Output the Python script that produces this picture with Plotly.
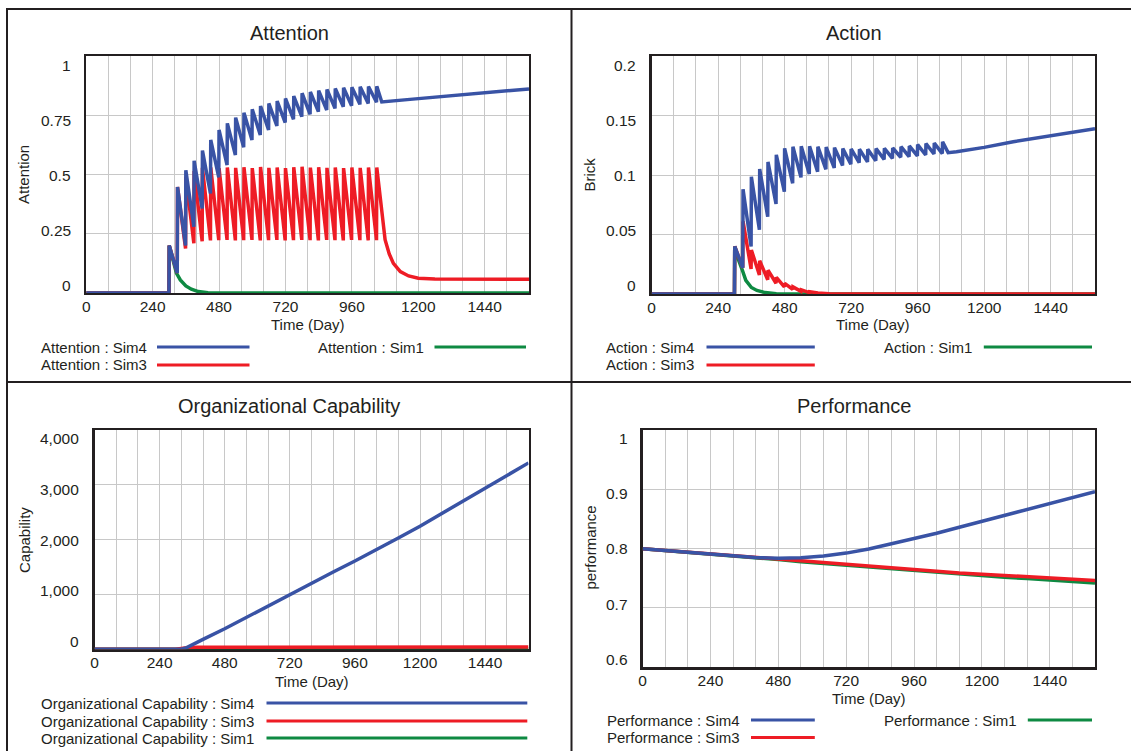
import plotly.graph_objects as go

W, H = 1131, 751

# ---------------- shared axis data ----------------
x_grid_vals = [0, 80, 160, 240, 320, 400, 480, 560, 640, 720, 800, 880, 960, 1040,
               1120, 1200, 1280, 1360, 1440, 1520, 1600]
x_tick_text = ["0", "", "", "240", "", "", "480", "", "", "720", "", "", "960", "",
               "", "1200", "", "", "1440", "", ""]

# pulse (decision) times used by the oscillating runs
pulse_t = [300, 330, 360, 390, 420, 450, 480, 510, 540, 570, 600, 630, 660, 690,
           720, 750, 780, 810, 840, 870, 900, 930, 960, 990, 1020, 1050]

# ---------------- Attention ----------------
att_sim4_peak = [0.200, 0.447, 0.518, 0.558, 0.601, 0.646, 0.688, 0.716, 0.740, 0.761,
                 0.775, 0.789, 0.800, 0.810, 0.821, 0.831, 0.843, 0.848, 0.854, 0.859,
                 0.863, 0.866, 0.868, 0.870, 0.871, 0.872]
att_sim4_trough = [0.0, 0.084, 0.200, 0.280, 0.357, 0.420, 0.488, 0.540, 0.582, 0.615,
                   0.646, 0.667, 0.688, 0.705, 0.719, 0.733, 0.744, 0.754, 0.765, 0.772,
                   0.779, 0.786, 0.790, 0.796, 0.800, 0.805]
att_sim4_tail_t = [1068, 1170, 1280, 1400, 1500, 1600]
att_sim4_tail_v = [0.806, 0.817, 0.828, 0.840, 0.850, 0.861]

att_sim3_peak = [0.200, 0.447, 0.490, 0.515, 0.528, 0.530, 0.527, 0.530, 0.528, 0.531,
                 0.527, 0.532, 0.528, 0.530, 0.527, 0.531, 0.533, 0.529, 0.531, 0.528,
                 0.530, 0.527, 0.530, 0.528, 0.530, 0.530]
att_sim3_trough = [0.0, 0.084, 0.188, 0.210, 0.218, 0.222, 0.223, 0.224, 0.222, 0.223,
                   0.224, 0.222, 0.223, 0.224, 0.222, 0.223, 0.224, 0.223, 0.222, 0.224,
                   0.223, 0.222, 0.224, 0.223, 0.222, 0.223]
att_sim3_tail_t = [1080, 1095, 1110, 1135, 1165, 1200, 1260, 1600]
att_sim3_tail_v = [0.225, 0.165, 0.125, 0.090, 0.072, 0.062, 0.059, 0.058]

att_sim1_t = [0, 299, 300, 326, 340, 360, 380, 405, 440, 480, 1600]
att_sim1_v = [0, 0, 0.200, 0.084, 0.055, 0.030, 0.016, 0.006, 0.001, 0, 0]

# ---------------- Action ----------------
act_sim4_peak = [0.040, 0.088, 0.0986, 0.105, 0.111, 0.117, 0.1224, 0.1238, 0.1241, 0.1241,
                 0.1238, 0.1235, 0.1230, 0.1222, 0.1219, 0.1216, 0.1216, 0.1222, 0.1224,
                 0.1227, 0.1238, 0.1244, 0.1255, 0.1265, 0.1268, 0.1279]
act_sim4_trough = [0.0, 0.022, 0.040, 0.054, 0.065, 0.0756, 0.086, 0.093, 0.098, 0.1008,
                   0.1028, 0.1048, 0.106, 0.108, 0.109, 0.1104, 0.111, 0.112, 0.113, 0.114,
                   0.1149, 0.1154, 0.116, 0.1168, 0.1176, 0.118]
act_sim4_tail_t = [1070, 1100, 1200, 1305, 1430, 1600]
act_sim4_tail_v = [0.1188, 0.1196, 0.1232, 0.1280, 0.1325, 0.1388]

act_sim3_peak = [0.040, 0.061, 0.037, 0.028, 0.020, 0.014, 0.009, 0.006, 0.0035, 0.002]
act_sim3_trough = [0.0, 0.022, 0.021, 0.016, 0.012, 0.009, 0.006, 0.004, 0.0022, 0.0012]
act_sim3_tail_t = [600, 640, 700, 1600]
act_sim3_tail_v = [0.0009, 0.0003, 0.0, 0.0]

act_sim1_t = [0, 299, 300, 313, 326, 340, 360, 380, 410, 450, 500, 1600]
act_sim1_v = [0, 0, 0.040, 0.029, 0.021, 0.0115, 0.0055, 0.003, 0.0012, 0.0003, 0, 0]

# ---------------- Organizational Capability ----------------
cap_t = [0, 320, 340, 360, 400, 480, 560, 640, 720, 800, 880, 960, 1040, 1120, 1200,
         1280, 1360, 1440, 1520, 1600]
cap_sim4 = [0, 0, 30, 75, 180, 375, 585, 795, 1000, 1200, 1410, 1610, 1815, 2030, 2245,
            2475, 2705, 2935, 3165, 3400]
cap_sim3_t = [0, 300, 340, 380, 1600]
cap_sim3 = [0, 0, 30, 38, 40]
cap_sim1_t = [0, 300, 330, 360, 1600]
cap_sim1 = [0, 0, 4, 5, 5]

# ---------------- Performance ----------------
perf_t = [0, 80, 160, 240, 320, 400, 480, 560, 640, 720, 800, 880, 960, 1040, 1120,
          1200, 1280, 1360, 1440, 1520, 1600]
perf_sim4 = [0.800, 0.797, 0.7945, 0.791, 0.788, 0.785, 0.7837, 0.7845, 0.7875, 0.7925,
             0.7995, 0.808, 0.817, 0.826, 0.836, 0.846, 0.856, 0.866, 0.876, 0.886, 0.896]
perf_sim3 = [0.800, 0.797, 0.7945, 0.791, 0.788, 0.785, 0.782, 0.779, 0.776, 0.773,
             0.770, 0.767, 0.7644, 0.762, 0.759, 0.757, 0.7548, 0.7526, 0.7504, 0.7483, 0.7463]
perf_sim1 = [0.800, 0.797, 0.7945, 0.791, 0.788, 0.785, 0.7815, 0.778, 0.775, 0.772,
             0.769, 0.766, 0.763, 0.760, 0.757, 0.7545, 0.752, 0.7495, 0.747, 0.7445, 0.742]

# y tick labels
att_ticks = [0, 0.25, 0.5, 0.75, 1]
att_labels = ["0", "0.25", "0.5", "0.75", "1"]
act_ticks = [0, 0.05, 0.1, 0.15, 0.2]
act_labels = ["0", "0.05", "0.1", "0.15", "0.2"]
cap_ticks = [0, 1000, 2000, 3000, 4000]
cap_labels = ["0", "1,000", "2,000", "3,000", "4,000"]
perf_ticks = [0.6, 0.7, 0.8, 0.9, 1.0]
perf_labels = ["0.6", "0.7", "0.8", "0.9", "1"]

# ---------------- styling ----------------
BLUE = "#3953A5"
RED = "#EE1C25"
GREEN = "#0E8A42"
GRID = "#C8C8C8"
FRAME = "#231F20"
TXT = "#231F20"
FONT = "Liberation Sans, Arial, sans-serif"
LW = 3.5
TICK_SIZE = 15.5


def sawtooth(times, troughs, peaks, tail_t, tail_v):
    xs, ys = [0], [0.0]
    for t, lo, hi in zip(times, troughs, peaks):
        xs += [t - 1, t]
        ys += [lo, hi]
    xs += tail_t
    ys += tail_v
    return xs, ys


def px_x(x):
    return x / W


def px_y(y):
    return 1 - y / H


fig = go.Figure()


def add(xs, ys, color, ax):
    fig.add_trace(go.Scatter(x=xs, y=ys, mode="lines", line=dict(color=color, width=LW),
                             xaxis="x" + ax, yaxis="y" + ax, showlegend=False,
                             hoverinfo="skip"))


# Attention (axes 1)
add(att_sim1_t, att_sim1_v, GREEN, "")
x3, y3 = sawtooth(pulse_t, att_sim3_trough, att_sim3_peak, att_sim3_tail_t, att_sim3_tail_v)
add(x3, y3, RED, "")
x4, y4 = sawtooth(pulse_t, att_sim4_trough, att_sim4_peak, att_sim4_tail_t, att_sim4_tail_v)
add(x4, y4, BLUE, "")

# Action (axes 2)
add(act_sim1_t, act_sim1_v, GREEN, "2")
n3 = len(act_sim3_peak)
x3, y3 = sawtooth(pulse_t[:n3], act_sim3_trough, act_sim3_peak, act_sim3_tail_t, act_sim3_tail_v)
add(x3, y3, RED, "2")
x4, y4 = sawtooth(pulse_t, act_sim4_trough, act_sim4_peak, act_sim4_tail_t, act_sim4_tail_v)
add(x4, y4, BLUE, "2")

# Capability (axes 3)
add(cap_sim1_t, cap_sim1, GREEN, "3")
add(cap_sim3_t, cap_sim3, RED, "3")
add(cap_t, cap_sim4, BLUE, "3")

# Performance (axes 4)
add(perf_t, perf_sim1, GREEN, "4")
add(perf_t, perf_sim3, RED, "4")
add(perf_t, perf_sim4, BLUE, "4")

tickfont = dict(family=FONT, size=TICK_SIZE, color=TXT)


def xcfg(x0, x1, anchor):
    return dict(domain=[px_x(x0), px_x(x1)], anchor=anchor, range=[0, 1600],
                tickmode="array", tickvals=x_grid_vals, ticktext=x_tick_text,
                showgrid=True, gridcolor=GRID, gridwidth=1, zeroline=False,
                showline=True, mirror=True, linecolor=FRAME, linewidth=2.2,
                ticks="", tickfont=tickfont, ticklabelstandoff=-2, layer="below traces",
                fixedrange=True, automargin=False)


def ycfg(y0, y1, anchor, rng, vals):
    # grid lines from the library; labels placed Vensim-style below (annotations)
    return dict(domain=[px_y(y1), px_y(y0)], anchor=anchor, range=rng,
                tickmode="array", tickvals=vals, showticklabels=False,
                showgrid=True, gridcolor=GRID, gridwidth=1, zeroline=False,
                showline=True, mirror=True, linecolor=FRAME, linewidth=2.2,
                ticks="", layer="below traces", fixedrange=True, automargin=False)


layout = dict(
    width=W, height=H, margin=dict(l=0, r=0, t=0, b=0, pad=0), autosize=False,
    paper_bgcolor="white", plot_bgcolor="white", showlegend=False,
    xaxis=xcfg(86.2, 529, "y"),
    yaxis=ycfg(56, 293, "x", [0, 1], att_ticks),
    xaxis2=xcfg(651.6, 1095, "y2"),
    yaxis2=ycfg(56, 294, "x2", [0, 0.2], act_ticks),
    xaxis3=xcfg(94.5, 528.5, "y3"),
    yaxis3=ycfg(430, 649.3, "x3", [0, 4000], cap_ticks),
    xaxis4=xcfg(642.6, 1095, "y4"),
    yaxis4=ycfg(430, 667.3, "x4", [0.6, 1.0], perf_ticks),
)
fig.update_layout(**layout)

annotations = []
shapes = []


def text(x, y, s, size=15, xanchor="center", angle=0):
    annotations.append(dict(x=px_x(x), y=px_y(y), xref="paper", yref="paper", text=s,
                            showarrow=False, xanchor=xanchor, yanchor="middle",
                            textangle=angle, font=dict(family=FONT, size=size, color=TXT)))


def hline(x0, x1, y, color, width=3):
    shapes.append(dict(type="line", xref="paper", yref="paper", x0=px_x(x0), x1=px_x(x1),
                       y0=px_y(y), y1=px_y(y), line=dict(color=color, width=width)))


def vline(x, y0, y1, color, width=2):
    shapes.append(dict(type="line", xref="paper", yref="paper", x0=px_x(x), x1=px_x(x),
                       y0=px_y(y0), y1=px_y(y1), line=dict(color=color, width=width)))


def ylabels(labels, right_x, top_y, bottom_y):
    # Vensim places value labels evenly, slightly inset from the frame edges
    n = len(labels)
    for i, lab in enumerate(labels):
        y = bottom_y + (top_y - bottom_y) * i / (n - 1)
        text(right_x, y, lab, TICK_SIZE, xanchor="right")


# panel frames
hline(6, 1131, 9, FRAME, 2)
hline(6, 1131, 382, FRAME, 2)
vline(7, 8, 751, FRAME, 2)
vline(571.5, 8, 751, FRAME, 2)

# titles
text(289, 33, "Attention", 20)
text(854, 33, "Action", 20)
text(289, 406, "Organizational Capability", 20)
text(854, 406, "Performance", 20)

# y value labels
ylabels(att_labels, 73, 65, 286)
ylabels(act_labels, 638, 65, 286)
ylabels(cap_labels, 81, 438.5, 641.7)
ylabels(perf_labels, 629.5, 438.5, 659.3)

# axis titles
text(307.6, 324, "Time (Day)")
text(873.3, 324, "Time (Day)")
text(311.5, 681, "Time (Day)")
text(868.8, 698, "Time (Day)")
text(24, 175, "Attention", angle=-90)
text(589.5, 175, "Brick", angle=-90)
text(24, 540, "Capability", angle=-90)
text(589.5, 548, "performance", angle=-90)

# legends
text(39, 347, "Attention : Sim4", xanchor="left")
hline(157, 249.5, 347, BLUE)
text(39, 365, "Attention : Sim3", xanchor="left")
hline(157, 249.5, 365, RED)
text(315.6, 347, "Attention : Sim1", xanchor="left")
hline(434.5, 526, 347, GREEN)

text(604, 347, "Action : Sim4", xanchor="left")
hline(706.5, 814.8, 347, BLUE)
text(604, 365, "Action : Sim3", xanchor="left")
hline(706.5, 814.8, 365, RED)
text(881.6, 347, "Action : Sim1", xanchor="left")
hline(983.8, 1092, 347, GREEN)

text(39, 703, "Organizational Capability : Sim4", xanchor="left")
hline(266.5, 527.3, 703, BLUE)
text(39, 721, "Organizational Capability : Sim3", xanchor="left")
hline(266.5, 527.3, 721, RED)
text(39, 738, "Organizational Capability : Sim1", xanchor="left")
hline(266.5, 527.3, 738, GREEN)

text(604.7, 720, "Performance : Sim4", xanchor="left")
hline(751, 814.8, 720, BLUE)
text(604.7, 737.5, "Performance : Sim3", xanchor="left")
hline(751, 814.8, 737.5, RED)
text(881.6, 720, "Performance : Sim1", xanchor="left")
hline(1027.8, 1092, 720, GREEN)

fig.update_layout(annotations=annotations, shapes=shapes)

fix_page = ("document.documentElement.style.margin='0';"
            "document.documentElement.style.padding='0';"
            "document.documentElement.style.overflow='hidden';"
            "document.body.style.margin='0';"
            "document.body.style.padding='0';"
            "document.body.style.overflow='hidden';")
fig.write_html("out.html", post_script=fix_page,
               config={"displayModeBar": False, "staticPlot": True})
